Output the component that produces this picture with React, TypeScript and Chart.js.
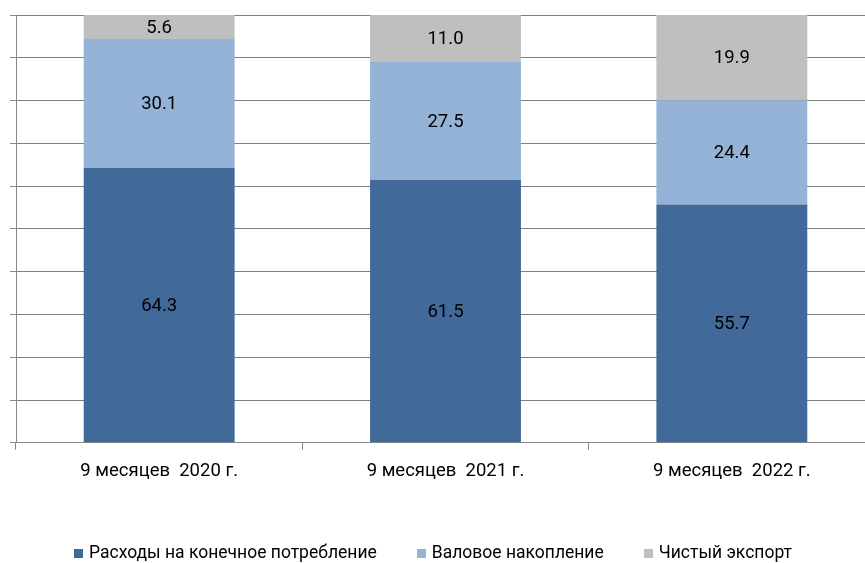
import React, { useEffect, useRef } from "react";
import { Chart, registerables } from "chart.js";

Chart.register(...registerables);

const categories = ["9 месяцев  2020 г.", "9 месяцев  2021 г.", "9 месяцев  2022 г."];
const consumption = [64.3, 61.5, 55.7];
const accumulation = [30.1, 27.5, 24.4];
const netExport = [5.6, 11.0, 19.9];
const seriesNames = ["Расходы на конечное потребление", "Валовое накопление", "Чистый экспорт"];
const seriesColors = ["#416A9B", "#95B3D7", "#BFBFBF"];
const yTicks = { min: 0, max: 100, step: 10 };

const FONT = "Roboto, 'Noto Sans', 'DejaVu Sans', sans-serif";

const valueLabels = {
  id: "valueLabels",
  afterDatasetsDraw(chart: any) {
    const ctx = chart.ctx;
    ctx.save();
    ctx.font = `18.5px ${FONT}`;
    ctx.fillStyle = "#000";
    ctx.textAlign = "center";
    ctx.textBaseline = "middle";
    chart.data.datasets.forEach((ds: any, i: number) => {
      const meta = chart.getDatasetMeta(i);
      meta.data.forEach((el: any, j: number) => {
        const v = ds.data[j];
        const cy = (el.y + el.base) / 2;
        ctx.fillText(v.toFixed(1), el.x, cy + 1);
      });
    });
    ctx.restore();
  },
};

const customLegend = {
  id: "customLegend",
  afterDraw(chart: any) {
    const ctx = chart.ctx;
    ctx.save();
    const fontSize = 17.5;
    ctx.font = `${fontSize}px ${FONT}`;
    ctx.textBaseline = "middle";
    ctx.textAlign = "left";
    const box = 9;
    const boxGap = 6;
    const itemGap = 40;
    const widths = seriesNames.map((n) => ctx.measureText(n).width);
    const total =
      widths.reduce((a, b) => a + b, 0) + seriesNames.length * (box + boxGap) + itemGap * (seriesNames.length - 1);
    const centerX = 433;
    const cy = 553.5;
    let x = centerX - total / 2;
    seriesNames.forEach((n, i) => {
      ctx.fillStyle = seriesColors[i];
      ctx.fillRect(Math.round(x), Math.round(cy - box / 2), box, box);
      x += box + boxGap;
      ctx.fillStyle = "#000";
      ctx.fillText(n, x, cy);
      x += widths[i] + itemGap;
    });
    ctx.restore();
  },
};

export default function App() {
  const ref = useRef<HTMLCanvasElement | null>(null);
  useEffect(() => {
    if (!ref.current) return;
    const chart = new Chart(ref.current, {
      type: "bar",
      data: {
        labels: categories,
        datasets: [
          { label: seriesNames[0], data: consumption, backgroundColor: seriesColors[0] },
          { label: seriesNames[1], data: accumulation, backgroundColor: seriesColors[1] },
          { label: seriesNames[2], data: netExport, backgroundColor: seriesColors[2] },
        ],
      },
      options: {
        animation: false,
        responsive: false,
        devicePixelRatio: 1,
        layout: { padding: { left: 10, right: 5, top: 15, bottom: 71 } },
        datasets: { bar: { categoryPercentage: 1, barPercentage: 0.527 } },
        plugins: {
          legend: { display: false },
          tooltip: { enabled: false },
        },
        scales: {
          x: {
            stacked: true,
            offset: true,
            grid: {
              offset: true,
              drawOnChartArea: false,
              drawTicks: true,
              tickLength: 7,
              color: "#888888",
              tickColor: "#888888",
            },
            border: { display: true, color: "#888888", width: 1 },
            ticks: {
              color: "#000",
              font: { family: FONT, size: 18.5 },
              padding: 10,
            },
          },
          y: {
            stacked: true,
            min: yTicks.min,
            max: yTicks.max,
            ticks: { display: false, stepSize: yTicks.step },
            grid: {
              color: "#7f7f7f",
              borderDash: [2, 1],
              tickBorderDash: [],
              tickColor: "#888888",
              tickLength: 6,
              drawTicks: true,
            },
            border: { display: true, color: "#888888", width: 1 },
          },
        },
      },
      plugins: [valueLabels, customLegend],
    });
    return () => chart.destroy();
  }, []);
  return (
    <div style={{ position: "fixed", left: 0, top: 0, width: 865, height: 563, overflow: "hidden", background: "#fff" }}>
      <canvas ref={ref} width={880} height={563} style={{ display: "block" }} />
    </div>
  );
}
